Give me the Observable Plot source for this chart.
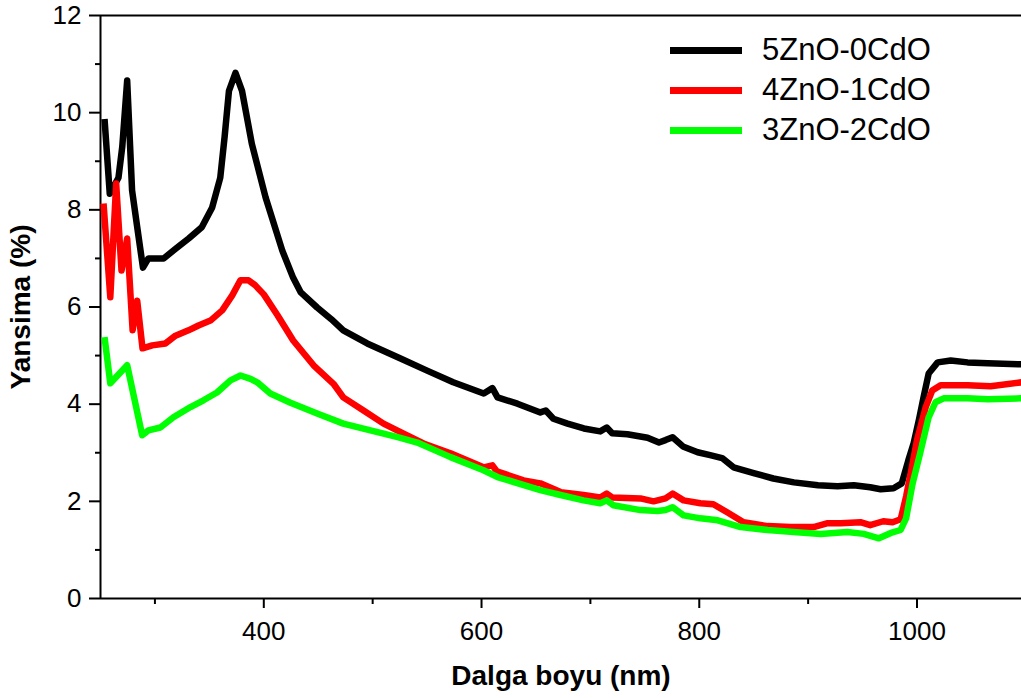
<!DOCTYPE html>
<html><head><meta charset="utf-8">
<script src="https://cdn.jsdelivr.net/npm/d3@7"></script>
<script src="https://cdn.jsdelivr.net/npm/@observablehq/plot@0.6"></script>
<style>
body{margin:0;background:#fff;font-family:"Liberation Sans",Arial,sans-serif;}
#wrap{position:relative;width:1021px;height:698px;overflow:hidden;}
#wrap svg [aria-label="x-axis label"] text, #wrap svg [aria-label="y-axis label"] text{font-weight:bold;font-size:28px;}
.legend{position:absolute;left:670px;top:30px;font-size:31px;line-height:40px;color:#000;}
.row{display:flex;align-items:center;height:40px;}
.sw{width:72px;height:7px;margin-right:20px;}
</style>
</head><body>
<div id="wrap"></div>
<script>
const seriesNames = ["5ZnO-0CdO", "4ZnO-1CdO", "3ZnO-2CdO"];
const seriesColors = ["#000000", "#ff0000", "#00ff00"];

const blackX = [253.7,258.5,266.5,270,274.5,279,284,289,294,308,319,331,343,352.6,360,364,368,374,380,389,401.6,417,427,434,449,462,473,495,525.6,550,574,602,610,614.7,633,654,659,666,679,694,709,715,720,734,752.5,763,769,775.5,785,798.5,810,821,831.5,850,868,887,909,927,942,957,966.6,978.5,986,992,997,1002,1006,1010.7,1019,1031,1046.5,1065,1096];
const blackY = [9.87,8.33,8.66,9.3,10.66,8.4,7.6,6.81,7.0,7.0,7.2,7.41,7.64,8.05,8.66,9.5,10.45,10.82,10.45,9.36,8.26,7.16,6.6,6.3,5.99,5.75,5.52,5.25,4.94,4.69,4.45,4.22,4.33,4.14,4.01,3.83,3.87,3.70,3.6,3.5,3.44,3.52,3.40,3.38,3.31,3.21,3.26,3.32,3.13,3.01,2.95,2.89,2.70,2.58,2.47,2.39,2.33,2.31,2.33,2.29,2.25,2.27,2.37,2.84,3.2,3.7,4.14,4.63,4.86,4.9,4.86,4.84,4.82];

const redX = [252.8,259,264.4,269.3,274.5,279.5,283.7,288.6,297.5,309.7,318.9,330.8,340,351,361.8,371,378.5,386,392,400,412.6,427,445.7,464,473,491.6,510,528,546.7,571.5,601.8,610,614,638.6,654,672.6,693.7,709,715,720,746,758,769,775.5,785.6,801,813,826,840.7,862.8,884,905,918,930,948,957,969,977.6,985,990,994,1000,1008,1014,1021.7,1046.5,1067.6,1096];
const redY = [8.13,6.2,8.54,6.75,7.41,5.52,6.13,5.15,5.21,5.25,5.41,5.52,5.62,5.72,5.93,6.24,6.55,6.55,6.45,6.26,5.83,5.31,4.8,4.42,4.14,3.87,3.60,3.40,3.19,2.99,2.70,2.74,2.62,2.43,2.37,2.19,2.13,2.08,2.16,2.08,2.06,2.0,2.06,2.16,2.02,1.96,1.94,1.77,1.57,1.49,1.47,1.47,1.55,1.55,1.57,1.51,1.59,1.57,1.63,2.1,2.55,3.26,3.94,4.28,4.39,4.39,4.37,4.45];

const greenX = [253.7,259,274.5,288.3,294,305,317,332.7,344.6,357,369.4,378.6,387.8,394,406,424.5,449,473,498,523,541,571.5,601.8,614.7,654,672.6,693.7,709,715,721,746,761.7,769,775.5,785.6,801,817,838,862.8,886.7,911.5,936,951,965,976,985,990,996,1003,1010.7,1017,1024.5,1046.5,1065,1096];
const greenY = [5.38,4.43,4.8,3.36,3.46,3.52,3.73,3.94,4.08,4.24,4.49,4.59,4.52,4.45,4.22,4.03,3.81,3.60,3.46,3.32,3.21,2.91,2.64,2.50,2.23,2.13,2.02,1.96,2.02,1.92,1.82,1.80,1.82,1.88,1.71,1.65,1.61,1.47,1.41,1.37,1.33,1.37,1.33,1.24,1.35,1.41,1.65,2.37,3.0,3.73,4.04,4.12,4.12,4.10,4.12];

const xMajor = [400, 600, 800, 1000];
const xMinor = [300, 500, 700, 900];
const yMajor = [0, 2, 4, 6, 8, 10, 12];
const yMinor = [1, 3, 5, 7, 9, 11];

const seriesX = [blackX, redX, greenX];
const seriesY = [blackY, redY, greenY];
const data = seriesNames.flatMap((name, i) => seriesX[i].map((x, j) => ({name, x, y: seriesY[i][j]})));

const chart = Plot.plot({
  width: 1021, height: 698,
  marginLeft: 100, marginRight: 0, marginTop: 15, marginBottom: 100,
  style: {fontFamily: "'Liberation Sans', Arial, sans-serif", fontSize: "26px", color: "#000", background: "transparent"},
  x: {domain: [250, 1096]},
  y: {domain: [0, 12]},
  color: {domain: seriesNames, range: seriesColors},
  marks: [
    Plot.axisX({ticks: xMajor, tickSize: 10, tickPadding: 13, strokeWidth: 2, tickFormat: d => String(d),
      label: "Dalga boyu (nm)", labelArrow: "none", labelAnchor: "center", labelOffset: 86}),
    Plot.axisX({ticks: xMinor, tickSize: 6, strokeWidth: 2, tickFormat: () => "", label: null}),
    Plot.axisY({ticks: yMajor, tickSize: 11, tickPadding: 8, strokeWidth: 2, tickFormat: d => String(d),
      label: "Yansima (%)", labelArrow: "none", labelAnchor: "center", labelOffset: 90}),
    Plot.axisY({ticks: yMinor, tickSize: 5, strokeWidth: 2, tickFormat: () => "", label: null}),
    Plot.ruleY([0, 12], {stroke: "#000", strokeWidth: 2}),
    Plot.ruleX([250], {stroke: "#000", strokeWidth: 2}),
    Plot.line(data, {x: "x", y: "y", z: "name", stroke: "name", strokeWidth: 6.5, strokeLinejoin: "round", strokeLinecap: "butt", clip: true})
  ]
});
const wrap = document.getElementById("wrap");
wrap.appendChild(chart);

const legend = document.createElement("div");
legend.className = "legend";
seriesNames.forEach((n, i) => {
  const row = document.createElement("div");
  row.className = "row";
  const sw = document.createElement("div");
  sw.className = "sw";
  sw.style.background = seriesColors[i];
  const t = document.createElement("span");
  t.textContent = n;
  row.appendChild(sw); row.appendChild(t);
  legend.appendChild(row);
});
wrap.appendChild(legend);
</script>
</body></html>
